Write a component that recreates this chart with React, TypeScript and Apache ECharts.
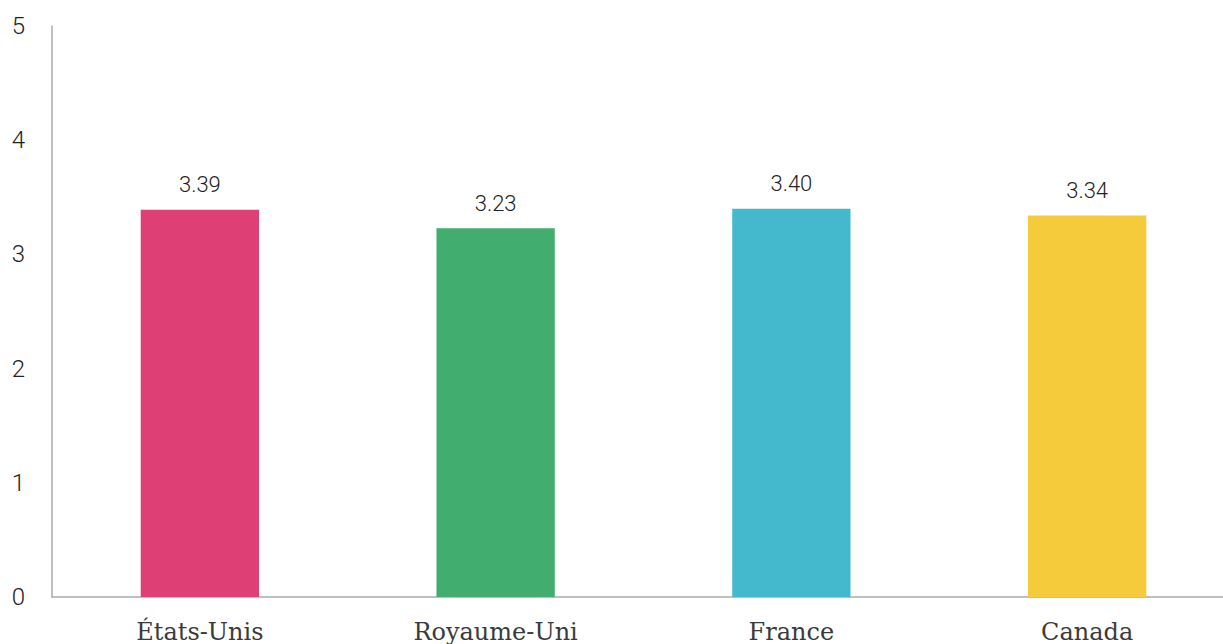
import React, { useEffect, useRef } from "react";
import * as echarts from "echarts";

const categories = ["États-Unis", "Royaume-Uni", "France", "Canada"];
const values = [3.39, 3.23, 3.4, 3.34];
const colors = ["#DE3F74", "#41AD6F", "#44B8CC", "#F5CA3B"];
const labels = ["3.39", "3.23", "3.40", "3.34"];

export default function App() {
  const ref = useRef<HTMLDivElement>(null);
  useEffect(() => {
    const chart = echarts.init(ref.current!, null, { renderer: "svg" });
    chart.setOption({
      animation: false,
      grid: { left: 52, width: 1183, top: 26, bottom: 47, containLabel: false, outerBoundsMode: "none" },
      xAxis: {
        type: "category",
        data: categories,
        axisLine: { lineStyle: { color: "#aaaaaa", width: 1.5 } },
        axisTick: { show: false },
        axisLabel: { fontFamily: "DejaVu Serif", fontSize: 24, color: "#3a3a3a", margin: 23 },
      },
      yAxis: {
        type: "value",
        min: 0,
        max: 5,
        interval: 1,
        splitLine: { show: false },
        axisLine: { show: true, lineStyle: { color: "#aaaaaa", width: 1.5 } },
        axisTick: { show: false },
        axisLabel: { fontFamily: "Roboto", fontWeight: 300, fontSize: 24, color: "#222", margin: 27 },
      },
      series: [
        {
          type: "bar",
          barWidth: "40%",
          data: values.map((v, i) => ({ value: v, itemStyle: { color: colors[i] } })),
          label: {
            show: true,
            position: "top",
            distance: 14,
            fontFamily: "Roboto",
            fontWeight: 300,
            fontSize: 22,
            color: "#222",
            formatter: (p: any) => labels[p.dataIndex],
          },
        },
      ],
    });
    return () => chart.dispose();
  }, []);
  return <div ref={ref} style={{ width: 1223, height: 644, position: "absolute", left: 0, top: 0 }} />;
}
